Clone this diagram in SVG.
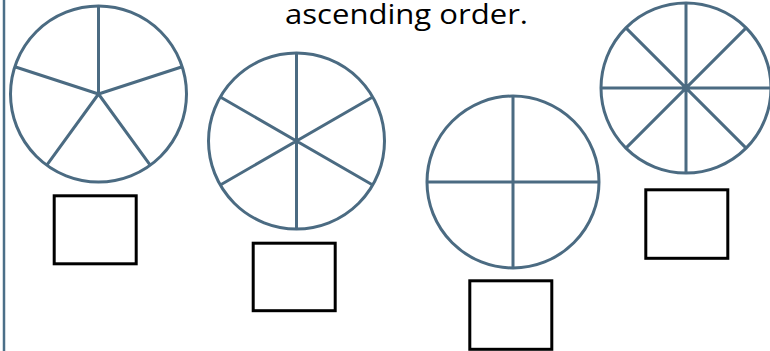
<svg xmlns="http://www.w3.org/2000/svg" width="770" height="351" viewBox="0 0 770 351">
<style>
.pie{fill:none;stroke:#4b6b82;stroke-width:3}
.box{fill:#fff;stroke:#000;stroke-width:3}
.t{font-family:"Open Sans","DejaVu Sans",sans-serif;font-size:27px;fill:#000}
</style>
<rect width="770" height="351" fill="#fff"/>
<line x1="4" y1="0" x2="4" y2="351" stroke="#4b6f88" stroke-width="2.5"/>
<text class="t" x="285" y="24" textLength="243" lengthAdjust="spacingAndGlyphs">ascending order.</text>
<g id="pie5" class="pie">
<circle cx="98.5" cy="94" r="88"/>
<path d="M98.5 94V6M98.5 94L182.2 66.8M98.5 94L150.2 165.2M98.5 94L46.8 165.2M98.5 94L14.8 66.8"/>
</g>
<g id="pie6" class="pie">
<circle cx="296.5" cy="141" r="88"/>
<path d="M296.5 53V229M220.3 97L372.7 185M220.3 185L372.7 97"/>
</g>
<g id="pie4" class="pie">
<circle cx="513" cy="182" r="86"/>
<path d="M427 182H599M513 96V268"/>
</g>
<g id="pie8" class="pie">
<circle cx="686" cy="88" r="85"/>
<path d="M601 88H771M686 3V173M625.9 27.9L746.1 148.1M625.9 148.1L746.1 27.9"/>
</g>
<g id="box1"><rect class="box" x="54.2" y="195.8" width="82" height="68"/></g>
<g id="box2"><rect class="box" x="253.2" y="243.2" width="82" height="67.5"/></g>
<g id="box3"><rect class="box" x="469.8" y="280.8" width="82" height="68.5"/></g>
<g id="box4"><rect class="box" x="645.8" y="189.8" width="82" height="68.5"/></g>
<g id="connectors"/>
</svg>
